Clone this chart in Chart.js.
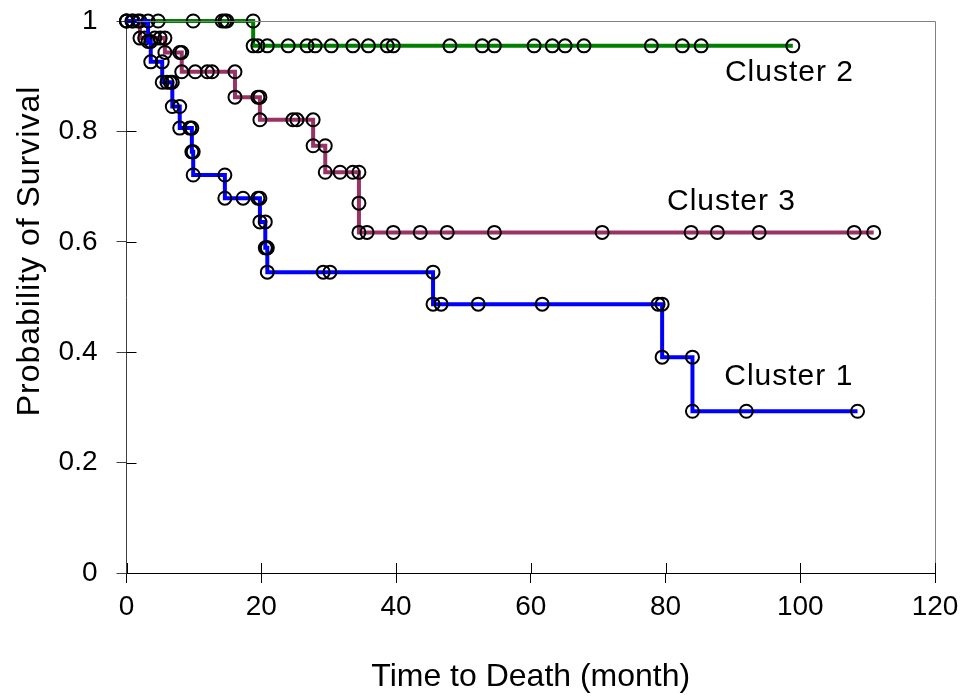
<!DOCTYPE html>
<html>
<head>
<meta charset="utf-8">
<script src="https://cdn.jsdelivr.net/npm/chart.js@4/dist/chart.umd.min.js"></script>
<style>
  html, body { margin: 0; padding: 0; background: #fff; }
  #wrap { width: 970px; height: 697px; }
</style>
</head>
<body>
<div id="wrap"><canvas id="km" width="970" height="697"></canvas></div>
<script>
  // Kaplan-Meier curves, one row of points per circle in the picture
  const c1Time = [0, 0.8, 3.2, 3.2, 3.6, 3.6, 5.3, 5.3, 6.0, 6.5, 6.8, 6.8, 7.9, 7.9, 9.4, 9.7, 9.7, 9.9, 9.9, 14.6,
    14.6, 17.3, 19.5, 19.8, 19.8, 20.6, 20.6, 20.8, 20.9, 20.9, 29.2, 30.2, 45.5, 45.5, 46.7, 52.2, 61.7, 78.9, 79.5,
    79.5, 84.0, 84.0, 92.0, 108.5];
  const c1Surv = [1, 1, 1, 0.963, 0.963, 0.926, 0.926, 0.889, 0.889, 0.889, 0.889, 0.845, 0.845, 0.806, 0.806, 0.806, 0.763, 0.763, 0.721, 0.721,
    0.679, 0.679, 0.679, 0.679, 0.636, 0.636, 0.589, 0.589, 0.589, 0.545, 0.545, 0.545, 0.545, 0.487, 0.487, 0.487, 0.487, 0.487, 0.487,
    0.391, 0.391, 0.293, 0.293, 0.293];

  const c2Time = [0, 4.7, 9.9, 14.2, 14.6, 14.9, 18.8, 18.8, 19.5, 20.9, 24.0, 26.8, 28.0, 30.4, 33.6, 35.9, 38.7, 39.6,
    48.0, 52.8, 54.6, 60.5, 63.2, 65.1, 67.9, 77.9, 82.5, 85.3, 98.9];
  const c2Surv = [1, 1, 1, 1, 1, 1, 1, 0.955, 0.955, 0.955, 0.955, 0.955, 0.955, 0.955, 0.955, 0.955, 0.955, 0.955,
    0.955, 0.955, 0.955, 0.955, 0.955, 0.955, 0.955, 0.955, 0.955, 0.955, 0.955];

  const c3Time = [0, 1.0, 1.7, 2.0, 2.0, 2.7, 4.2, 5.0, 5.7, 5.7, 7.9, 8.2, 8.2, 10.2, 12.0, 12.7, 16.1, 16.1, 19.5,
    19.8, 19.8, 24.7, 25.3, 27.7, 27.7, 29.5, 29.5, 31.7, 33.6, 34.5, 34.5, 34.5, 35.7, 39.6, 43.6, 47.6, 54.6, 70.6,
    83.8, 87.7, 93.9, 108.0, 110.9];
  const c3Surv = [1, 1, 1, 1, 0.969, 0.969, 0.969, 0.969, 0.969, 0.943, 0.943, 0.943, 0.908, 0.908, 0.908, 0.908, 0.908, 0.862, 0.862,
    0.862, 0.821, 0.821, 0.821, 0.821, 0.774, 0.774, 0.726, 0.726, 0.726, 0.726, 0.670, 0.617, 0.617, 0.617, 0.617, 0.617, 0.617, 0.617,
    0.617, 0.617, 0.617, 0.617, 0.617];

  const seriesNames = ['Cluster 1', 'Cluster 2', 'Cluster 3'];
  const seriesColors = ['#0000ff', '#008000', '#993366'];
  // where the cluster names sit, in data units (month, probability)
  const labelTime = [98.3, 98.4, 89.8];
  const labelSurv = [0.355, 0.906, 0.672];

  const xTicks = [0, 20, 40, 60, 80, 100, 120];
  const xTitle = 'Time to Death (month)';
  const yTitle = 'Probability of Survival';

  function toPoints(ts, vs) {
    return ts.map((t, i) => ({ x: t, y: vs[i] }));
  }

  const FONT = "'Liberation Sans', Arial, sans-serif";

  // frame on top/right, ticks crossing the axes, axis titles and series names
  const extras = {
    id: 'extras',
    afterDatasetsDraw(chart) {
      const ctx = chart.ctx;
      const a = chart.chartArea;
      const xs = chart.scales.x, ys = chart.scales.y;
      ctx.save();
      ctx.strokeStyle = '#808080';
      ctx.lineWidth = 1;
      ctx.beginPath();
      ctx.moveTo(a.left, a.top + 0.5);
      ctx.lineTo(a.right + 0.5, a.top + 0.5);
      ctx.lineTo(a.right + 0.5, a.bottom);
      ctx.stroke();

      // inner half of tick marks
      ctx.strokeStyle = '#000';
      ctx.beginPath();
      xs.ticks.forEach(tk => {
        const px = Math.round(xs.getPixelForValue(tk.value)) + 0.5;
        ctx.moveTo(px, a.bottom);
        ctx.lineTo(px, a.bottom - 10);
      });
      ys.ticks.forEach(tk => {
        const py = Math.round(ys.getPixelForValue(tk.value)) + 0.5;
        ctx.moveTo(a.left, py);
        ctx.lineTo(a.left + 10, py);
      });
      ctx.stroke();

      ctx.fillStyle = '#000';
      ctx.textAlign = 'center';
      ctx.textBaseline = 'middle';
      ctx.font = '30px ' + FONT;
      ctx.letterSpacing = '1px';
      seriesNames.forEach((name, i) => {
        ctx.fillText(name, xs.getPixelForValue(labelTime[i]), ys.getPixelForValue(labelSurv[i]));
      });

      ctx.font = '32px ' + FONT;
      ctx.letterSpacing = '0px';
      ctx.fillText(xTitle, (a.left + a.right) / 2, 677);

      ctx.letterSpacing = '1px';
      ctx.translate(30, 251);
      ctx.rotate(-Math.PI / 2);
      ctx.fillText(yTitle, 0, 0);
      ctx.restore();
    }
  };

  const pointsByCluster = [toPoints(c1Time, c1Surv), toPoints(c2Time, c2Surv), toPoints(c3Time, c3Surv)];

  new Chart(document.getElementById('km'), {
    type: 'line',
    data: {
      datasets: pointsByCluster.map((pts, i) => ({
        label: seriesNames[i],
        data: pts,
        borderColor: seriesColors[i],
        borderWidth: 4,
        pointRadius: 6.5,
        pointBorderWidth: 2,
        pointBorderColor: '#000',
        pointBackgroundColor: 'rgba(0,0,0,0)',
        tension: 0,
        fill: false,
        clip: false
      }))
    },
    options: {
      responsive: false,
      animation: false,
      layout: { padding: { left: 0, top: 0, right: 35, bottom: 0 } },
      plugins: { legend: { display: false }, tooltip: { enabled: false } },
      scales: {
        x: {
          type: 'linear',
          min: 0, max: 120,
          afterBuildTicks: s => { s.ticks = xTicks.map(v => ({ value: v })); },
          afterFit: s => { s.height = 124; },
          border: { color: '#000', width: 1 },
          grid: { drawOnChartArea: false, drawTicks: true, tickLength: 10, color: '#000' },
          ticks: { color: '#000', font: { family: FONT, size: 28 }, padding: 7, maxRotation: 0 }
        },
        y: {
          type: 'linear',
          min: 0, max: 1,
          ticks: { stepSize: 0.2, color: '#000', font: { family: FONT, size: 28 }, padding: 19,
                   callback: v => String(+v.toFixed(1)) },
          afterFit: s => { s.width = 126.5; s.paddingTop = 21; s.paddingBottom = 0; },
          border: { color: '#404040', width: 1 },
          grid: { drawOnChartArea: false, drawTicks: true, tickLength: 10, color: '#404040' }
        }
      }
    },
    plugins: [extras]
  });
</script>
</body>
</html>
